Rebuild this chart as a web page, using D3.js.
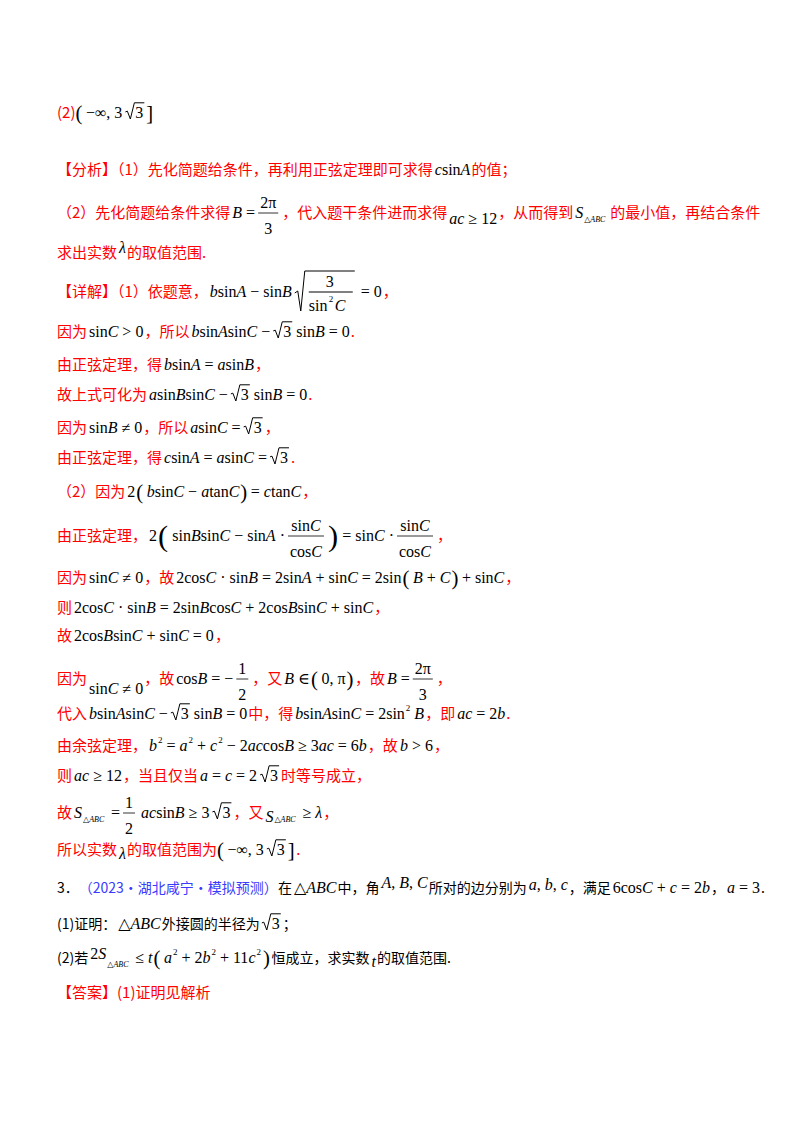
<!DOCTYPE html>
<html><head><meta charset="utf-8">
<script src="https://cdn.jsdelivr.net/npm/d3@7"></script>
<style>body{margin:0;background:#fff}</style>
</head><body>
<svg id="page"></svg>
<script>
const width = 800, height = 1132;
const RED = "#ff0000", BLUE = "#3a3aff";

// line baselines (document rows)
const rowY = [118, 175, 218, 258, 297, 337, 370, 400, 433, 463, 497, 541, 583, 613, 641, 684, 719, 751, 781, 818, 855, 893, 929, 963, 998];

// tokens: r red CJK, k black CJK, b blue CJK, m math, s sub, p sup, f fraction, q sqrt, P big paren
const rows = [
  [["r","(2)"],["P","("],["m","−∞, 3"],["q","3"],["P","]"]],
  [["r","【分析】（1）先化简题给条件，再利用正弦定理即可求得"],["m","csinA"],["r","的值；"]],
  [["r","（2）先化简题给条件求得"],["m","B ="],["f","2π","3"],["r","，代入题干条件进而求得"],["m","ac ≥ 12",6],["r","，从而得到"],["m","S"],["s","△ABC"],["r","的最小值，再结合条件"]],
  [["r","求出实数"],["m","λ",-5],["r","的取值范围."]],
  [["r","【详解】（1）依题意，"],["m","bsinA − sinB"],["q","",0,"f"],["m","= 0"],["r","，"]],
  [["r","因为"],["m","sinC > 0"],["r","，所以"],["m","bsinAsinC − "],["q","3"],["m","sinB = 0"],["r","."]],
  [["r","由正弦定理，得"],["m","bsinA = asinB"],["r","，"]],
  [["r","故上式可化为"],["m","asinBsinC − "],["q","3"],["m","sinB = 0"],["r","."]],
  [["r","因为"],["m","sinB ≠ 0"],["r","，所以"],["m","asinC = "],["q","3"],["r","，"]],
  [["r","由正弦定理，得"],["m","csinA = asinC = "],["q","3"],["r","."]],
  [["r","（2）因为"],["m","2"],["P","("],["m","bsinC − atanC"],["P",")"],["m","= ctanC"],["r","，"]],
  [["r","由正弦定理，"],["m","2"],["P","(",1.9],["m","sinBsinC − sinA ·"],["f","sinC","cosC"],["P",")",1.9],["m","= sinC ·"],["f","sinC","cosC"],["r","，"]],
  [["r","因为"],["m","sinC ≠ 0"],["r","，故"],["m","2cosC · sinB = 2sinA + sinC = 2sin"],["P","("],["m","B + C"],["P",")"],["m","+ sinC"],["r","，"]],
  [["r","则"],["m","2cosC · sinB = 2sinBcosC + 2cosBsinC + sinC"],["r","，"]],
  [["r","故"],["m","2cosBsinC + sinC = 0"],["r","，"]],
  [["r","因为"],["m","sinC ≠ 0",10],["r","，故"],["m","cosB = −"],["f","1","2"],["r","，又"],["m","B ∈ "],["P","("],["m","0, π"],["P",")"],["r","，故"],["m","B ="],["f","2π","3"],["r","，"]],
  [["r","代入"],["m","bsinAsinC − "],["q","3"],["m","sinB = 0"],["r","中，得"],["m","bsinAsinC = 2sin"],["p","2"],["m","B"],["r","，即"],["m","ac = 2b"],["r","."]],
  [["r","由余弦定理，"],["m","b"],["p","2"],["m","= a"],["p","2"],["m","+ c"],["p","2"],["m","− 2accosB ≥ 3ac = 6b"],["r","，故"],["m","b > 6"],["r","，"]],
  [["r","则"],["m","ac ≥ 12"],["r","，当且仅当"],["m","a = c = 2"],["q","3"],["r","时等号成立，"]],
  [["r","故"],["m","S"],["s","△ABC"],["m","="],["f","1","2"],["m","acsinB ≥ 3"],["q","3"],["r","，又"],["m","S",4],["s","△ABC"],["m","≥ λ"],["r","，"]],
  [["r","所以实数"],["m","λ",4],["r","的取值范围为"],["P","("],["m","−∞, 3"],["q","3"],["P","]"],["r","."]],
  [["k","3．"],["b","（2023·湖北咸宁·模拟预测）"],["k","在"],["m","△ABC"],["k","中，角"],["m","A, B, C",-5],["k","所对的边分别为"],["m","a, b, c",-3],["k","，满足"],["m","6cosC + c = 2b"],["k","，"],["m","a = 3"],["k","."]],
  [["k","(1)证明："],["m","△ABC"],["k","外接圆的半径为"],["q","3"],["k","；"]],
  [["k","(2)若"],["m","2S",-4],["s","△ABC"],["m","≤ t"],["P","("],["m","a"],["p","2"],["m","+ 2b"],["p","2"],["m","+ 11c"],["p","2"],["P",")"],["k","恒成立，求实数"],["m","t",4],["k","的取值范围."]],
  [["r","【答案】(1)证明见解析"]]
];

const svg = d3.select("#page").attr("width", width).attr("height", height);
const CJK = "'Noto Sans CJK SC', sans-serif", SERIF = "'Liberation Serif', 'DejaVu Serif', serif";

function mathText(g, x, y, str, size) {
  const t = g.append("text").attr("x", x).attr("y", y)
    .attr("font-family", SERIF).attr("font-size", size).attr("fill", "#000");
  str.split(/(sin|cos|tan|[a-zA-Zλ])/).filter(s => s).forEach(s => {
    const it = /^[a-zA-Zλ]$/.test(s);
    t.append("tspan").attr("font-style", it ? "italic" : "normal").text(s);
  });
  return t.node().getComputedTextLength() + 3;
}

function plain(g, x, y, str, color, font, size, weight) {
  const t = g.append("text").attr("x", x).attr("y", y).attr("fill", color)
    .attr("font-family", font).attr("font-size", size).attr("font-weight", weight || 400).text(str);
  return t.node().getComputedTextLength();
}

function sqrt(g, x, y, rad, size) {
  const w = rad ? plain(g, 0, -999, rad, "#000", SERIF, size) : 0;
  g.select("text:last-child").remove();
  const h = size * 0.95;
  g.append("path").attr("fill", "none").attr("stroke", "#000").attr("stroke-width", 1)
    .attr("d", `M${x},${y - h * 0.4} L${x + 2},${y - h * 0.45} L${x + 5},${y + 1} L${x + 9},${y - h} L${x + 11 + w},${y - h}`);
  if (rad) plain(g, x + 10, y, rad, "#000", SERIF, size);
  return 12 + w + 1;
}

function frac(g, x, y, num, den, size) {
  const tmp = g.append("text").attr("font-family", SERIF).attr("font-size", size).text(num.length > den.length ? num : den);
  const w = tmp.node().getComputedTextLength() + 4; tmp.remove();
  const cx = x + w / 2 + 2;
  [[num, y - 10], [den, y + 16]].forEach(([s, yy]) => {
    const tw = mathText(g, 0, -999, s, size) - 3; g.select("text:last-child").remove();
    mathText(g, cx - tw / 2, yy, s, size);
  });
  g.append("line").attr("x1", x + 2).attr("x2", x + w + 2).attr("y1", y - 5).attr("y2", y - 5)
    .attr("stroke", "#000").attr("stroke-width", 0.8);
  return w + 6;
}

rows.forEach((toks, i) => {
  const y = rowY[i];
  const g = svg.append("g");
  let x = 57;
  toks.forEach(([type, a, b, c]) => {
    if (type === "r" || type === "k" || type === "b") {
      const col = type === "r" ? RED : type === "b" ? BLUE : "#000";
      x += plain(g, x, y, a, col, CJK, type === "r" ? 15 : 14);
    } else if (type === "m") {
      x += mathText(g, x + 2, y + (b || 0), a, 16);
    } else if (type === "s") {
      g.append("text").attr("x", x).attr("y", y + 4).attr("font-family", SERIF)
        .attr("font-size", 8).attr("font-style", "italic").text(a);
      x += 26;
    } else if (type === "p") {
      x += plain(g, x, y - 8, a, "#000", SERIF, 9) + 2;
    } else if (type === "f") {
      x += frac(g, x, y, a, b, 16);
    } else if (type === "q") {
      if (c === "f") {
        // sqrt of 3/sin^2C
        g.append("path").attr("fill", "none").attr("stroke", "#000")
          .attr("d", `M${x + 2},${y - 4} L${x + 5},${y - 6} L${x + 8},${y + 14} L${x + 12},${y - 26} L${x + 62},${y - 26}`);
        mathText(g, x + 33, y - 10, "3", 16);
        g.append("line").attr("x1", x + 16).attr("x2", x + 60).attr("y1", y - 5).attr("y2", y - 5).attr("stroke", "#000");
        mathText(g, x + 16, y + 14, "sin", 16);
        plain(g, x + 36, y + 5, "2", "#000", SERIF, 9);
        mathText(g, x + 42, y + 14, "C", 16);
        x += 66;
      } else x += sqrt(g, x + 2, y, a, 16) + 2;
    } else if (type === "P") {
      const s = b || 1.3;
      plain(g, x, y + (s - 1) * 5, a, "#000", SERIF, 16 * s);
      x += 6.5 * s;
    }
  });
});
</script>
</body></html>
